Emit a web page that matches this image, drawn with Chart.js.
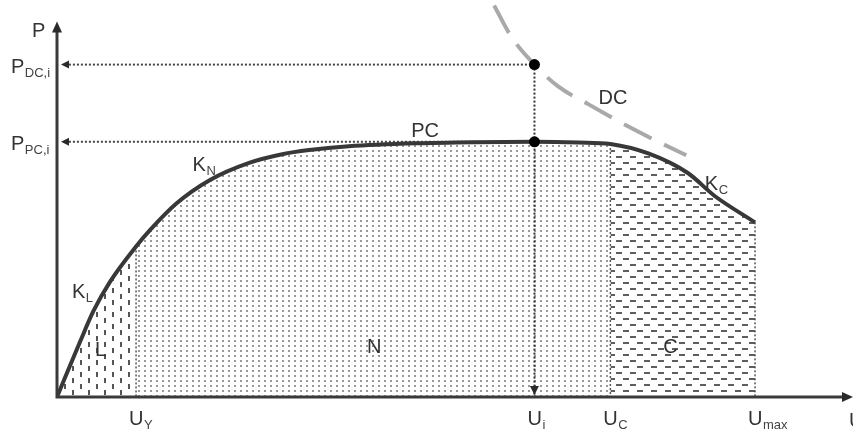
<!DOCTYPE html>
<html>
<head>
<meta charset="utf-8">
<script src="https://cdn.jsdelivr.net/npm/chart.js@4.4.1/dist/chart.umd.min.js"></script>
<style>
html, body { margin: 0; padding: 0; background: #fff; }
#wrap { width: 853px; height: 429px; position: relative; }
</style>
</head>
<body>
<div id="wrap"><canvas id="pu"></canvas></div>
<script>
// P(U) characteristic, arbitrary units
const curveU = [0, 2.9, 4.6, 6.7, 10, 11.7, 15.1, 19.3, 24.3, 28.5, 31.9, 36.9, 45.4, 53, 60.4, 66, 70, 74.8, 79.8, 83.2, 88.3];
const curveP = [0, 14.6, 22.8, 30.6, 40.0, 44.2, 51.4, 57.6, 62.2, 64.5, 65.6, 66.6, 67.4, 67.7, 67.8, 67.6, 67.2, 64.7, 59.5, 53.4, 46.4];

// DC curve (dashed)
const dcU = [55.3, 57.5, 60.4, 63.4, 67.2, 73.5, 79.6];
const dcP = [104, 95.6, 88.3, 82.5, 77.8, 70.5, 64.2];

// axis marks
const uTicks = [10, 60.4, 70, 88.3];
const uTickLabels = [['U', 'Y'], ['U', 'i'], ['U', 'C'], ['U', 'max']];
const pTicks = [88.3, 67.8];
const pTickLabels = [['P', 'DC,i'], ['P', 'PC,i']];

// regions under the curve
const regionNames = ['L', 'N', 'C'];
const regionBounds = [0, 10, 70, 88.3];

const opU = uTicks[1];

const pts = curveU.map((u, i) => ({ x: u, y: curveP[i] }));
const dcPts = dcU.map((u, i) => ({ x: u, y: dcP[i] }));
const pAt = u => curveP[curveU.indexOf(u)];

function makePattern(w, h, color, rects) {
    const c = document.createElement('canvas');
    c.width = w; c.height = h;
    const g = c.getContext('2d');
    g.fillStyle = '#fff';
    g.fillRect(0, 0, w, h);
    g.fillStyle = color;
    rects.forEach(r => g.fillRect(r[0], r[1], r[2], r[3]));
    return g.createPattern(c, 'repeat');
}

const patterns = {
    L: makePattern(16, 12, '#555', [[0, 0, 2, 5], [8, 6, 2, 5]]),
    N: makePattern(6, 5, '#999', [[0, 0, 2, 2]]),
    C: makePattern(14, 12, '#5e5e5e', [[0, 0, 6, 2], [7, 6, 6, 2]])
};

const fillSets = regionNames.map((name, i) => ({
    label: name,
    data: pts.filter(p => p.x >= regionBounds[i] && p.x <= regionBounds[i + 1]),
    borderWidth: 0,
    pointRadius: 0,
    cubicInterpolationMode: 'monotone',
    fill: 'origin',
    backgroundColor: patterns[name],
    order: 10
}));

const guide = (data, width, color) => ({
    data: data,
    borderColor: color,
    borderWidth: width,
    borderDash: [2, 2],
    pointRadius: 0,
    fill: false,
    order: 3
});

const guideSets = [
    guide([{ x: 1, y: pTicks[0] }, { x: opU, y: pTicks[0] }], 2, '#444'),
    guide([{ x: 1, y: pTicks[1] }, { x: opU, y: pTicks[1] }], 2, '#444'),
    guide([{ x: opU, y: pTicks[0] }, { x: opU, y: 0 }], 2, '#333'),
    guide([{ x: uTicks[0], y: pAt(uTicks[0]) }, { x: uTicks[0], y: 0 }], 1.5, '#555'),
    guide([{ x: uTicks[2], y: pAt(uTicks[2]) }, { x: uTicks[2], y: 0 }], 1.5, '#555'),
    guide([{ x: uTicks[3], y: pAt(uTicks[3]) }, { x: uTicks[3], y: 0 }], 1.5, '#555')
];

const FONT = '"Liberation Sans", Arial, sans-serif';

// text placed in data units (left edge, baseline)
const freeLabels = [
    { t: 'K', s: 'L', x: 1.9, y: 26.2 },
    { t: 'K', s: 'N', x: 17.15, y: 60.0 },
    { t: 'PC', s: '', x: 44.8, y: 69.2 },
    { t: 'DC', s: '', x: 68.5, y: 77.8 },
    { t: 'K', s: 'C', x: 81.95, y: 55.0 },
    { t: 'L', s: '', x: 4.8, y: 11.0 },
    { t: 'N', s: '', x: 39.2, y: 11.8 },
    { t: 'C', s: '', x: 76.7, y: 11.8 }
];

function label(ctx, x, y, main, sub) {
    ctx.font = '20px ' + FONT;
    ctx.fillStyle = '#333';
    ctx.fillText(main, x, y);
    if (sub) {
        const w = ctx.measureText(main).width;
        ctx.font = '13px ' + FONT;
        ctx.fillStyle = '#444';
        ctx.fillText(sub, x + w + 0.5, y + 4);
    }
}

function tri(ctx, a, b, c) {
    ctx.beginPath();
    ctx.moveTo(a[0], a[1]);
    ctx.lineTo(b[0], b[1]);
    ctx.lineTo(c[0], c[1]);
    ctx.closePath();
    ctx.fill();
}

const sketch = {
    id: 'sketch',
    afterDatasetsDraw(chart) {
        const ctx = chart.ctx;
        const xs = chart.scales.x, ys = chart.scales.y;
        const left = xs.getPixelForValue(0), bottom = ys.getPixelForValue(0);
        const top = ys.getPixelForValue(100);
        ctx.save();
        ctx.strokeStyle = '#3a3a3a';
        ctx.fillStyle = '#2a2a2a';
        ctx.lineWidth = 3;
        ctx.beginPath();
        ctx.moveTo(left, bottom + 1.5);
        ctx.lineTo(left, top + 8);
        ctx.moveTo(left - 1.5, bottom);
        ctx.lineTo(chart.width - 8, bottom);
        ctx.stroke();
        tri(ctx, [left, top + 1], [left - 5, top + 12], [left + 5, top + 12]);
        tri(ctx, [chart.width, bottom], [chart.width - 11, bottom - 5], [chart.width - 11, bottom + 5]);

        // guide arrows
        pTicks.forEach(p => {
            const py = ys.getPixelForValue(p);
            tri(ctx, [left + 4, py], [left + 12, py - 4], [left + 12, py + 4]);
        });
        const ux = xs.getPixelForValue(opU);
        tri(ctx, [ux, bottom - 2], [ux - 4.5, bottom - 11], [ux + 4.5, bottom - 11]);

        ctx.textBaseline = 'alphabetic';
        ctx.textAlign = 'left';
        uTicks.forEach((u, i) => {
            const px = xs.getPixelForValue(u);
            label(ctx, px - 7, bottom + 28, uTickLabels[i][0], uTickLabels[i][1]);
        });
        pTicks.forEach((p, i) => {
            const py = ys.getPixelForValue(p);
            label(ctx, left - 46, py + 8, pTickLabels[i][0], pTickLabels[i][1]);
        });
        label(ctx, left - 25, top + 16, 'P', '');
        label(ctx, chart.width - 4, bottom + 30, 'U', '');

        freeLabels.forEach(l => {
            label(ctx, xs.getPixelForValue(l.x), ys.getPixelForValue(l.y), l.t, l.s);
        });
        ctx.restore();
    }
};

new Chart(document.getElementById('pu'), {
    type: 'line',
    data: {
        datasets: [
            {
                label: 'PC',
                data: pts,
                borderColor: '#383838',
                borderWidth: 4,
                pointRadius: 0,
                cubicInterpolationMode: 'monotone',
                fill: false,
                order: 1
            },
            {
                label: 'DC',
                data: dcPts,
                borderColor: '#a9a9a9',
                borderWidth: 4,
                borderDash: [31, 14],
                pointRadius: 0,
                cubicInterpolationMode: 'monotone',
                fill: false,
                clip: false,
                order: 2
            },
            {
                label: 'op',
                data: pTicks.map(p => ({ x: opU, y: p })),
                showLine: false,
                pointRadius: 5.5,
                pointBackgroundColor: '#000',
                pointBorderWidth: 0,
                order: 0
            },
            ...guideSets,
            ...fillSets
        ]
    },
    options: {
        responsive: true,
        maintainAspectRatio: false,
        animation: false,
        layout: { padding: { left: 57, right: 3, top: 0, bottom: 32 } },
        scales: {
            x: { type: 'linear', min: 0, max: 100, display: false },
            y: { min: 0, max: 104, display: false }
        },
        plugins: {
            legend: { display: false },
            tooltip: { enabled: false }
        }
    },
    plugins: [sketch]
});
</script>
</body>
</html>
